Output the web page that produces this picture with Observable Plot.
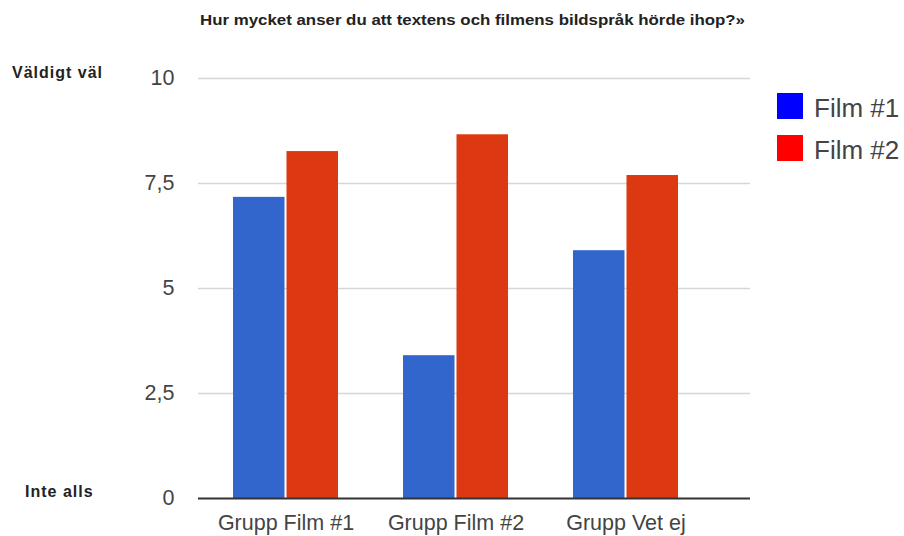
<!DOCTYPE html>
<html>
<head>
<meta charset="utf-8">
<script src="https://cdn.jsdelivr.net/npm/d3@7"></script>
<script src="https://cdn.jsdelivr.net/npm/@observablehq/plot@0.6"></script>
<style>
  html, body { margin: 0; padding: 0; background: #fff; }
  #chart svg { display: block; }
</style>
</head>
<body>
<div id="chart"></div>
<script>
// Survey answers: average rating per respondent group, one bar per film
const groups = ["Grupp Film #1", "Grupp Film #2", "Grupp Vet ej"];
const seriesNames = ["Film #1", "Film #2"];
const film1 = [7.17, 3.40, 5.90];
const film2 = [8.26, 8.66, 7.69];
const yTicks = [0, 2.5, 5, 7.5, 10];
const title = "Hur mycket anser du att textens och filmens bildspråk hörde ihop?»";
const topLabel = "Väldigt väl";
const bottomLabel = "Inte alls";

const barColors = ["#3366cc", "#dc3912"];
const swatchColors = ["#0000ff", "#ff0000"];
const font = "'Liberation Sans', Arial, sans-serif";

const rows1 = groups.map((g, i) => ({group: g, value: film1[i]}));
const rows2 = groups.map((g, i) => ({group: g, value: film2[i]}));

const chart = Plot.plot({
  width: 904,
  height: 536,
  marginTop: 78,
  marginBottom: 38,
  marginLeft: 198,
  marginRight: 154,
  style: {fontFamily: font, fontSize: "21.5px", color: "#444", background: "#fff"},
  x: {
    domain: groups,
    range: [199, 711],
    paddingInner: 0.385,
    paddingOuter: 0.193,
    label: null,
    tickSize: 0,
    tickPadding: 16
  },
  y: {
    domain: [0, 10],
    ticks: yTicks,
    tickFormat: d => String(d).replace(".", ","),
    tickSize: 0,
    tickPadding: 24,
    label: null
  },
  marks: [
    Plot.ruleY(yTicks.filter(d => d > 0), {stroke: "#d6d6d6", strokeWidth: 1.5}),
    Plot.barY(rows1, {x: "group", y: "value", fill: barColors[0], insetRight: 53.5}),
    Plot.barY(rows2, {x: "group", y: "value", fill: barColors[1], insetLeft: 53.5}),
    Plot.ruleY([0], {stroke: "#333", strokeWidth: 2})
  ]
});

document.getElementById("chart").appendChild(chart);

// Title, scale-end annotations and legend
const svg = d3.select(chart);

function addText(parent, x, y, size, weight, fill, spacing, str) {
  return parent.append("text")
    .attr("x", x).attr("y", y)
    .attr("text-anchor", "start")
    .attr("font-family", font)
    .attr("font-size", size)
    .attr("font-weight", weight)
    .attr("letter-spacing", spacing)
    .attr("fill", fill)
    .text(str);
}

addText(svg, 200, 25, 15, "bold", "#222", 0, title)
  .attr("textLength", 545)
  .attr("lengthAdjust", "spacingAndGlyphs");
addText(svg, 12, 77.5, 16, "bold", "#222", 1, topLabel);
addText(svg, 25, 496.5, 16, "bold", "#222", 1, bottomLabel);

const legend = svg.append("g");
seriesNames.forEach((name, i) => {
  const top = 93 + i * 42;
  legend.append("rect")
    .attr("x", 777).attr("y", top)
    .attr("width", 26).attr("height", 26)
    .attr("fill", swatchColors[i]);
  addText(legend, 814, top + 23.5, 26, "normal", "#444", 0, name);
});
</script>
</body>
</html>
